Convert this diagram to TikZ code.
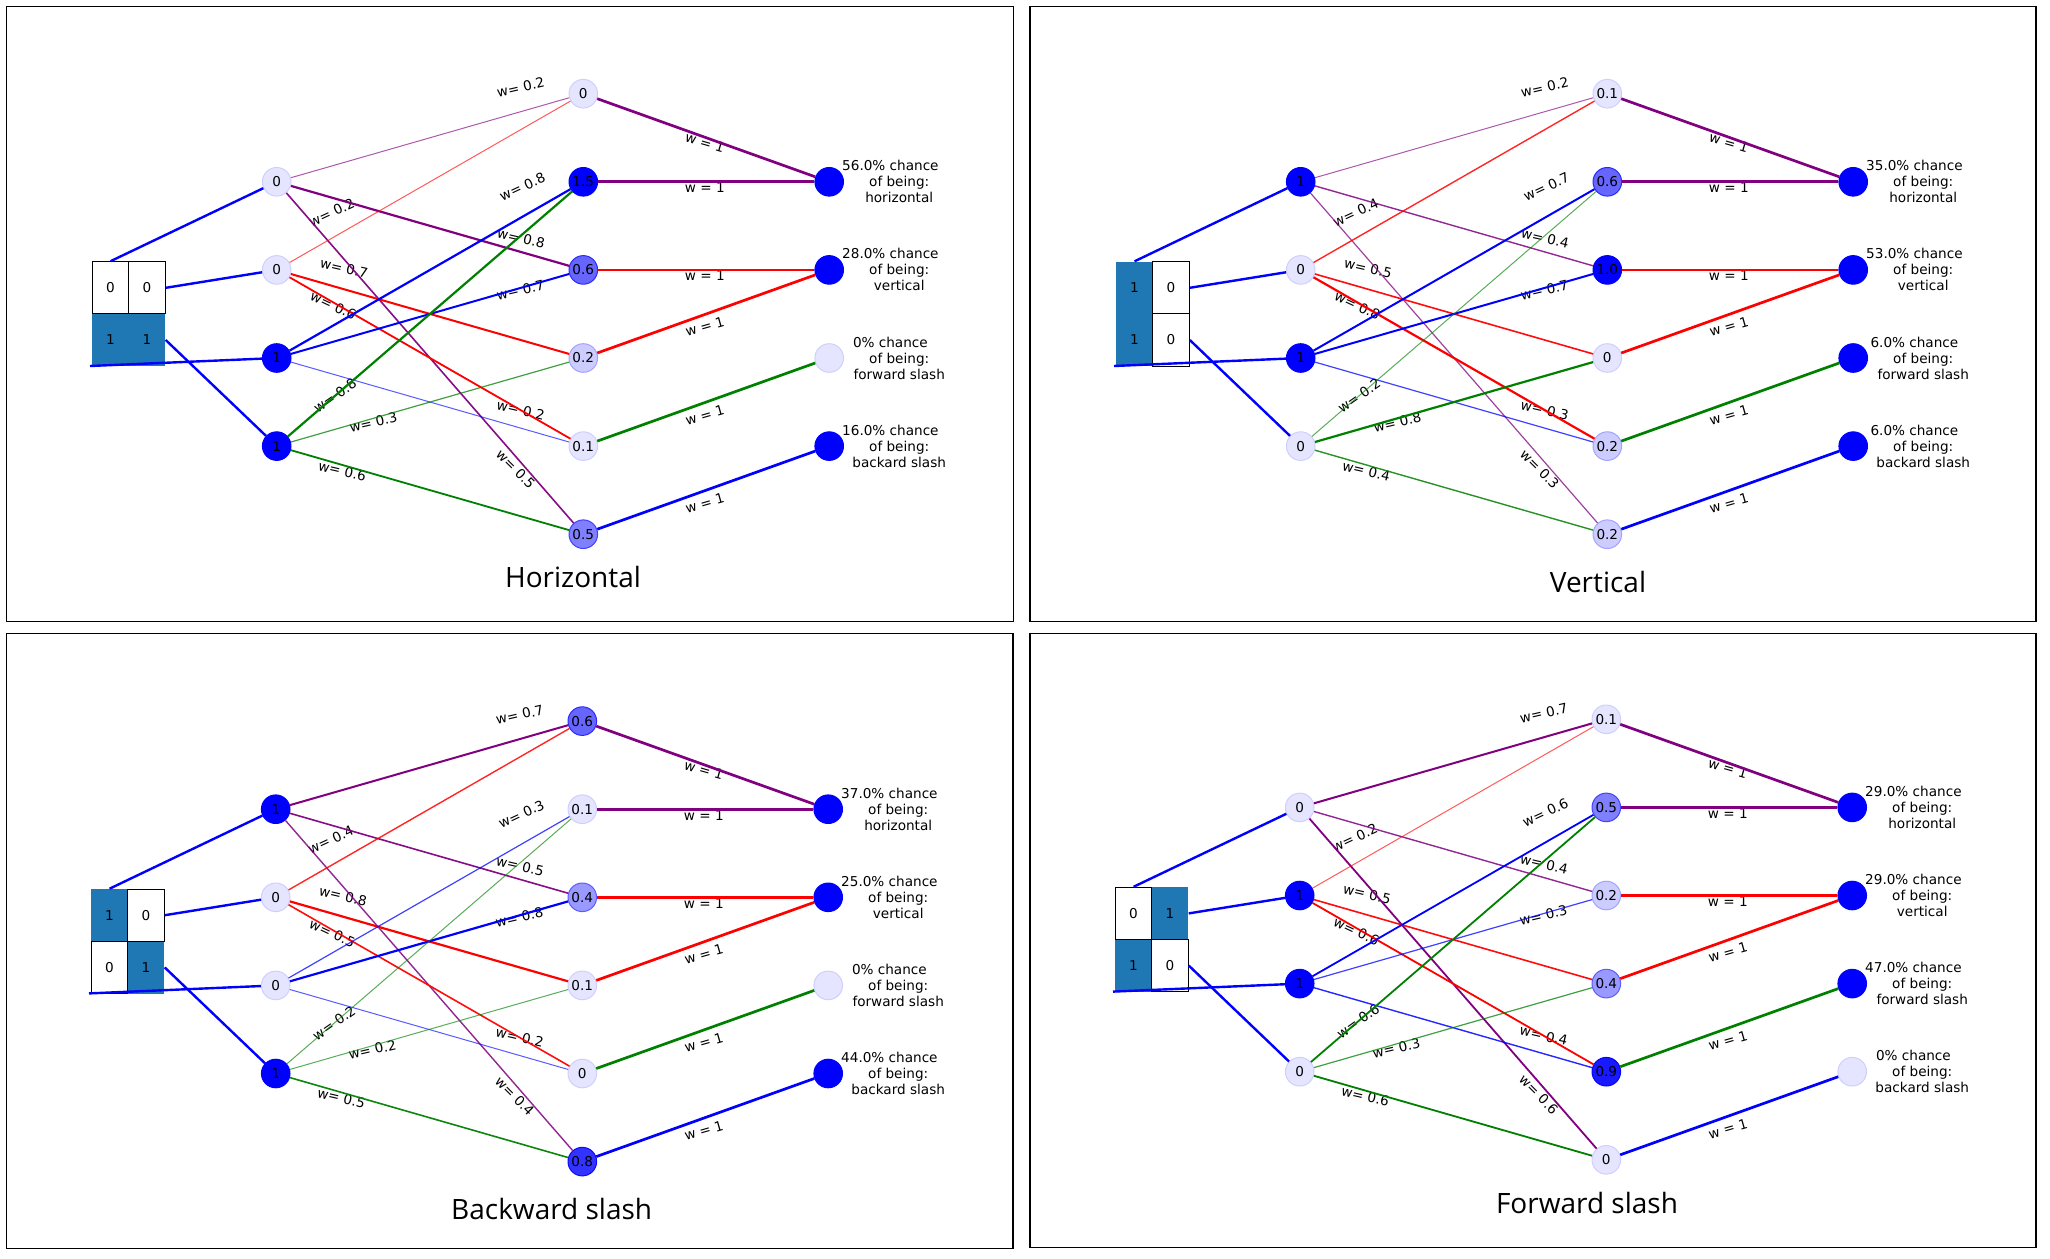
\documentclass[tikz,border=0pt]{standalone}
\usepackage{fontspec}
\setmainfont{DejaVu Sans}
\newfontfamily\titlefont{Open Sans}
\pgfdeclarelayer{labels}
\pgfsetlayers{labels,main}
\definecolor{cellblue}{HTML}{1F77B4}
\definecolor{mgreen}{HTML}{008000}
\definecolor{mpurple}{HTML}{800080}
\definecolor{mred}{HTML}{FF0000}
\definecolor{mblue}{HTML}{0000FF}
\tikzset{
  vn/.style={circle, minimum size=14.3pt, inner sep=0pt, line width=0.5pt, font=\fontsize{6.8}{8}\selectfont, text=black},
  cellbox/.style={rectangle, minimum width=18.25pt, minimum height=26.1pt, inner sep=0pt, font=\fontsize{6.8}{8}\selectfont},
  wlab/.style={font=\fontsize{6.8}{8}\selectfont, inner sep=0pt, text=black},
  inedge/.style={mblue, line width=1.2pt},
  outedge/.style={line width=1.35pt},
  frame/.style={draw=black, line width=0.6pt},
  ttl/.style={font=\titlefont\fontsize{14}{16}\selectfont, inner sep=0pt},
  outtxt/.style={align=center, font=\fontsize{6.8}{8}\selectfont, inner sep=0pt},
}
% value node
\newcommand\vnode[4]{%
  \pgfmathtruncatemacro\fa{round(min(1,max(#4,0.1))*100)}%
  \pgfmathtruncatemacro\fb{round((1-(1-\fa/100)^2)*100)}%
  \node[vn, fill=mblue!\fa!white, draw=mblue!\fb!white] (#1) at (#2,#3) {#4};}
% output node (1 = on, 0 = off)
\newcommand\onode[4]{%
  \ifnum#4=1 \node[vn, fill=mblue, draw=mblue] (#1) at (#2,#3) {};%
  \else \node[vn, fill=mblue!10!white, draw=mblue!19!white] (#1) at (#2,#3) {};\fi}
% weighted line
\newcommand\wline[4]{%
  \pgfmathsetmacro\lw{0.3+#4*1.0}%
  \pgfmathsetmacro\op{min(1,0.45+#4)}%
  \draw[#3, line width=\lw pt, draw opacity=\op] (#1) -- (#2);}
% weight label (under the lines)
\newcommand\wlabel[5]{%
  \begin{pgfonlayer}{labels}\node[wlab, rotate=#4] (lab-#1) at (#2,#3) {w= #5};\end{pgfonlayer}}
\newcommand\olabel[4]{%
  \begin{pgfonlayer}{labels}\node[wlab, rotate=#4] (olab-#1) at (#2,#3) {w = 1};\end{pgfonlayer}}
% input grid
\newcommand\cellB[4]{\ifnum#4=1 \node[cellbox, fill=cellblue] (#1) at (#2,#3) {1};\fi}
\newcommand\cellW[4]{\ifnum#4=0 \node[cellbox, draw=black, line width=0.5pt, fill=white] (#1) at (#2,#3) {0};\fi}
\newcommand\panelgrid[4]{%
  \cellB{c00}{110.55}{287.8}{#1}\cellB{c01}{147.05}{287.8}{#2}%
  \cellB{c10}{110.55}{340.0}{#3}\cellB{c11}{147.05}{340.0}{#4}%
  \cellW{c00}{110.55}{287.8}{#1}\cellW{c01}{147.05}{287.8}{#2}%
  \cellW{c10}{110.55}{340.0}{#3}\cellW{c11}{147.05}{340.0}{#4}%
  \coordinate (cbl) at (90,366);}
\newcommand\hnodes[4]{%
  \vnode{h0}{276.7}{181.8}{#1}\vnode{h1}{276.7}{269.9}{#2}%
  \vnode{h2}{276.7}{358.0}{#3}\vnode{h3}{276.7}{446.1}{#4}}
\newcommand\lnodes[6]{%
  \vnode{l0}{583.3}{93.7}{#1}\vnode{l1}{583.3}{181.8}{#2}\vnode{l2}{583.3}{269.9}{#3}%
  \vnode{l3}{583.3}{358.0}{#4}\vnode{l4}{583.3}{446.1}{#5}\vnode{l5}{583.3}{534.2}{#6}}
\newcommand\onodes[4]{%
  \onode{o0}{829.2}{181.8}{#1}\onode{o1}{829.2}{269.9}{#2}%
  \onode{o2}{829.2}{358.0}{#3}\onode{o3}{829.2}{446.1}{#4}}
\newcommand\otexts[4]{%
  \node[outtxt] (t0) at (899.2,181.8) {#1 chance\rule{8.8pt}{0pt}\\of being:\\horizontal};
  \node[outtxt] (t1) at (899.2,269.9) {#2 chance\rule{8.8pt}{0pt}\\of being:\\vertical};
  \node[outtxt] (t2) at (899.2,358.0) {#3 chance\rule{8.8pt}{0pt}\\of being:\\forward slash};
  \node[outtxt] (t3) at (899.2,446.1) {#4 chance\rule{8.8pt}{0pt}\\of being:\\backard slash};}
\newcommand\inedges{%
  \draw[inedge] (c00.north) -- (h0);
  \draw[inedge] (c01.east) -- (h1);
  \draw[inedge] (cbl) -- (h2);
  \draw[inedge] (c11.east) -- (h3);}
\newcommand\outedges{%
  \draw[outedge, mpurple] (l0) -- (o0); \olabel{a}{704.8}{142.7}{-16}
  \draw[outedge, mpurple] (l1) -- (o0); \olabel{b}{704.8}{188}{0}
  \draw[outedge, mred] (l2) -- (o1); \olabel{c}{704.8}{276}{0}
  \draw[outedge, mred] (l3) -- (o1); \olabel{d}{704.8}{326.7}{16}
  \draw[outedge, mgreen] (l4) -- (o2); \olabel{e}{704.8}{415}{16}
  \draw[outedge, mblue] (l5) -- (o3); \olabel{f}{704.8}{503.3}{16}}
\newcommand\wA[6]{%
  \wline{h0}{l0}{mpurple}{#1}\wlabel{g}{520.7}{87.3}{13}{#1}%
  \wline{h0}{l2}{mpurple}{#2}\wlabel{i}{521}{238.3}{-13}{#2}%
  \wline{h0}{l5}{mpurple}{#3}\wlabel{l}{515.7}{469}{-45}{#3}%
  \wline{h1}{l0}{mred}{#4}\wlabel{a}{331.7}{212.3}{25}{#4}%
  \wline{h1}{l3}{mred}{#5}\wlabel{b}{344}{268.3}{-13}{#5}%
  \wline{h1}{l4}{mred}{#6}\wlabel{c}{333.3}{305.7}{-25}{#6}}
\newcommand\wB[6]{%
  \wline{h2}{l1}{mblue}{#1}\wlabel{h}{522.3}{186.7}{25}{#1}%
  \wline{h2}{l2}{mblue}{#2}\wlabel{j}{520.3}{290}{13}{#2}%
  \wline{h2}{l4}{mblue}{#3}\wlabel{k}{520.7}{410}{-13}{#3}%
  \wline{h3}{l1}{mgreen}{#4}\wlabel{d}{335}{395.7}{35}{#4}%
  \wline{h3}{l3}{mgreen}{#5}\wlabel{e}{373.3}{422.3}{13}{#5}%
  \wline{h3}{l5}{mgreen}{#6}\wlabel{f}{342.3}{470.7}{-13}{#6}}
\begin{document}
\begin{tikzpicture}[x=0.5pt,y=-0.5pt]
\useasboundingbox (0,0) rectangle (2050,1258);
\begin{pgfonlayer}{labels}\fill[white] (0,0) rectangle (2050,1258);\end{pgfonlayer}
\draw[frame] (6.5,6.5) rectangle (1013.5,621.5);
\draw[frame] (1030,6.5) rectangle (2036,621.5);
\draw[frame] (6.5,633.5) rectangle (1013,1248.5);
\draw[frame] (1030,633.5) rectangle (2036,1247.5);
% Panel 1
\begin{scope}[name prefix=pa-]
  \panelgrid{0}{0}{1}{1}
  \hnodes{0}{0}{1}{1}
  \lnodes{0}{1.5}{0.6}{0.2}{0.1}{0.5}
  \onodes{1}{1}{0}{1}
  \otexts{56.0\%}{28.0\%}{0\%}{16.0\%}
  \inedges
  \outedges
  \wA{0.2}{0.8}{0.5}{0.2}{0.7}{0.6}
  \wB{0.8}{0.7}{0.2}{0.8}{0.3}{0.6}
  \node[ttl] (title) at (573,577) {Horizontal};
\end{scope}
% Panel 2
\begin{scope}[shift={(1024,0)}, name prefix=pb-]
  \panelgrid{1}{0}{1}{0}
  \hnodes{1}{0}{1}{0}
  \lnodes{0.1}{0.6}{1.0}{0}{0.2}{0.2}
  \onodes{1}{1}{1}{1}
  \otexts{35.0\%}{53.0\%}{6.0\%}{6.0\%}
  \inedges
  \outedges
  \wA{0.2}{0.4}{0.3}{0.4}{0.5}{0.8}
  \wB{0.7}{0.7}{0.3}{0.2}{0.8}{0.4}
  \node[ttl] (title) at (574,581.8) {Vertical};
\end{scope}
% Panel 3
\begin{scope}[shift={(-1,627.4)}, name prefix=pc-]
  \panelgrid{1}{0}{0}{1}
  \hnodes{1}{0}{0}{1}
  \lnodes{0.6}{0.1}{0.4}{0.1}{0}{0.8}
  \onodes{1}{1}{0}{1}
  \otexts{37.0\%}{25.0\%}{0\%}{44.0\%}
  \inedges
  \outedges
  \wA{0.7}{0.5}{0.4}{0.4}{0.8}{0.5}
  \wB{0.3}{0.8}{0.2}{0.2}{0.2}{0.5}
  \node[ttl] (title) at (552.7,581.9) {Backward slash};
\end{scope}
% Panel 4
\begin{scope}[shift={(1023,625.6)}, name prefix=pd-]
  \panelgrid{0}{1}{1}{0}
  \hnodes{0}{1}{1}{0}
  \lnodes{0.1}{0.5}{0.2}{0.4}{0.9}{0}
  \onodes{1}{1}{1}{0}
  \otexts{29.0\%}{29.0\%}{47.0\%}{0\%}
  \inedges
  \outedges
  \wA{0.7}{0.4}{0.6}{0.2}{0.5}{0.6}
  \wB{0.6}{0.3}{0.4}{0.6}{0.3}{0.6}
  \node[ttl] (title) at (564,577.2) {Forward slash};
\end{scope}
\end{tikzpicture}
\end{document}
